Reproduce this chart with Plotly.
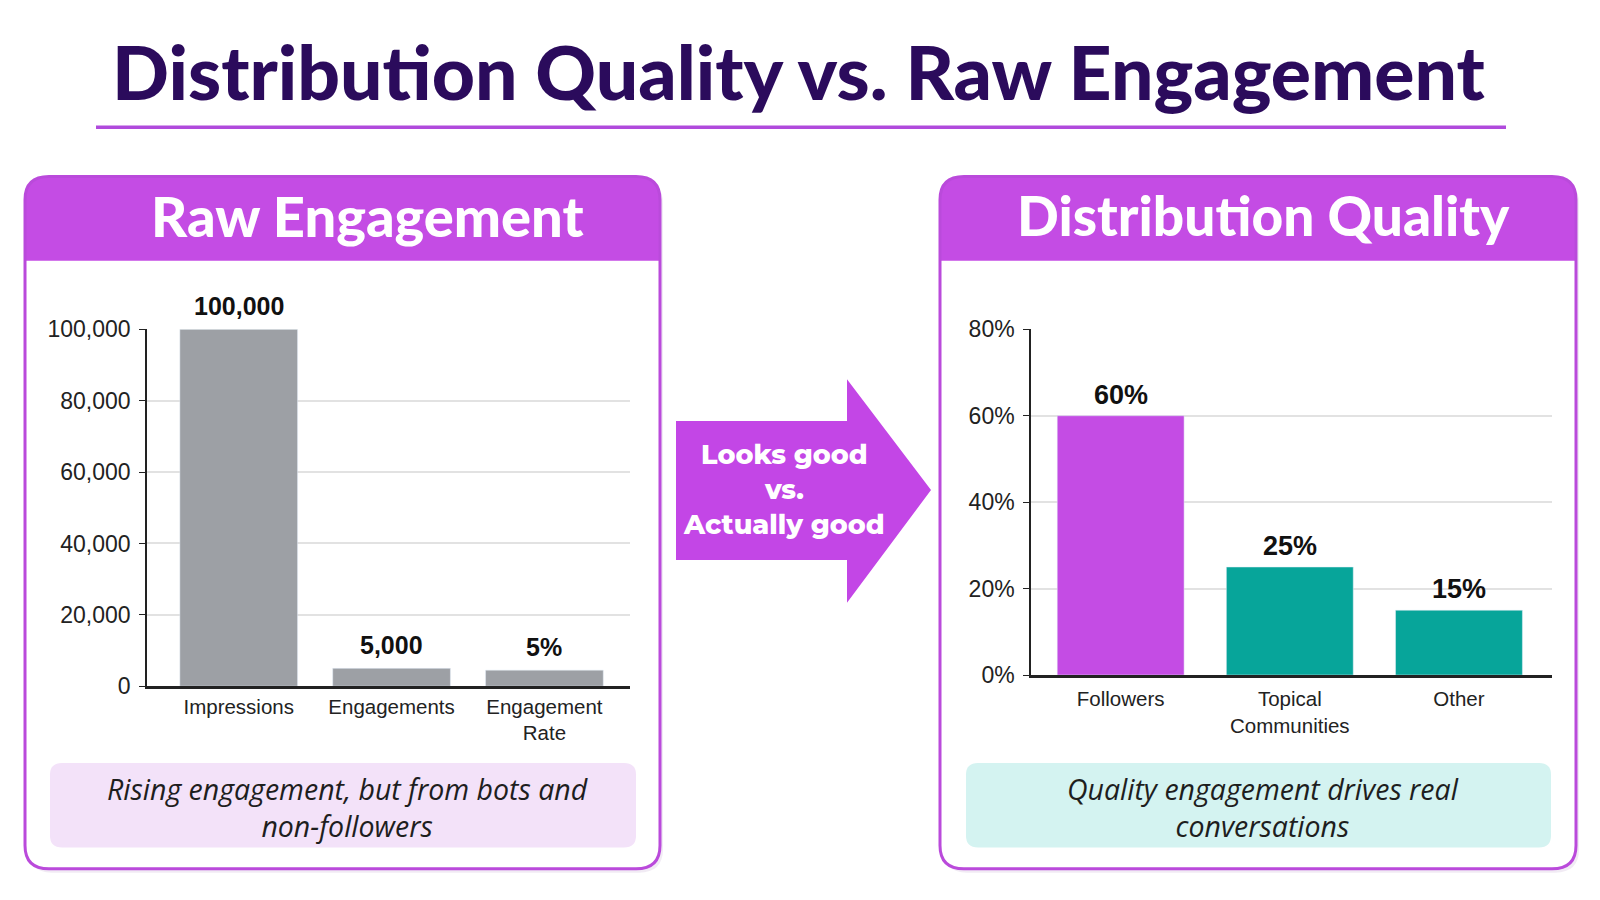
import plotly.graph_objects as go

W, H = 1600, 900

# data
raw_categories = ['Impressions', 'Engagements', 'Engagement<br>Rate']
raw_values = [100000, 5000, 4500]
raw_labels = ['100,000', '5,000', '5%']

quality_categories = ['Followers', 'Topical<br>Communities', 'Other']
quality_values = [60, 25, 15]
quality_labels = ['60%', '25%', '15%']

PURPLE = '#C44CE4'
TEAL = '#07A59A'
GRAY = '#9DA0A5'
BORDER = '#BA4ADB'
TITLE_COLOR = '#2B0B5C'


def px(x):
    return x / W


def py(y):
    return 1 - y / H


def rounded_path(x0, y0, x1, y1, r, bottom_round=True):
    rb = r if bottom_round else 0
    pts = [
        ('M', [(x0 + r, y0)]),
        ('L', [(x1 - r, y0)]),
        ('Q', [(x1, y0), (x1, y0 + r)]),
        ('L', [(x1, y1 - rb)]),
        ('Q', [(x1, y1), (x1 - rb, y1)]),
        ('L', [(x0 + rb, y1)]),
        ('Q', [(x0, y1), (x0, y1 - rb)]),
        ('L', [(x0, y0 + r)]),
        ('Q', [(x0, y0), (x0 + r, y0)]),
    ]
    s = ''
    for cmd, p in pts:
        s += cmd + ' ' + ' '.join(f'{px(a):.5f},{py(b):.5f}' for a, b in p) + ' '
    return s + 'Z'


def poly_path(points):
    s = 'M ' + ' L '.join(f'{px(a):.5f},{py(b):.5f}' for a, b in points)
    return s + ' Z'


fig = go.Figure()

fig.add_trace(go.Bar(x=raw_categories, y=raw_values, marker_color=GRAY,
                     width=0.77, xaxis='x', yaxis='y', showlegend=False,
                     hoverinfo='skip'))
fig.add_trace(go.Bar(x=quality_categories, y=quality_values,
                     marker_color=[PURPLE, TEAL, TEAL],
                     width=0.75, xaxis='x2', yaxis='y2', showlegend=False,
                     hoverinfo='skip'))

shapes = []
# panels
for x0, x1 in [(17, 652), (932, 1568)]:
    shapes.append(dict(type='path', xref='paper', yref='paper', layer='below',
                       path=rounded_path(x0 + 3, 164, x1 + 3, 877, 24),
                       fillcolor='rgba(120,60,150,0.10)', line=dict(width=0)))
    shapes.append(dict(type='path', xref='paper', yref='paper', layer='below',
                       path=rounded_path(x0, 160, x1, 873, 24),
                       fillcolor='white', line=dict(width=0)))
    shapes.append(dict(type='path', xref='paper', yref='paper', layer='below',
                       path=rounded_path(x0, 160, x1, 247, 24, bottom_round=False),
                       fillcolor=PURPLE, line=dict(width=0)))
    shapes.append(dict(type='path', xref='paper', yref='paper', layer='below',
                       path=rounded_path(x0, 160, x1, 873, 24),
                       fillcolor='rgba(0,0,0,0)', line=dict(color=BORDER, width=3)))

# caption boxes
shapes.append(dict(type='path', xref='paper', yref='paper', layer='below',
                   path=rounded_path(42, 764, 628, 851, 12),
                   fillcolor='#F3E2F9', line=dict(width=0)))
shapes.append(dict(type='path', xref='paper', yref='paper', layer='below',
                   path=rounded_path(958, 764, 1543, 851, 12),
                   fillcolor='#D4F3F1', line=dict(width=0)))

# title underline
shapes.append(dict(type='line', xref='paper', yref='paper',
                   x0=px(88), x1=px(1498), y0=py(109.5), y1=py(109.5),
                   line=dict(color='#B04ADC', width=3.5)))

# arrow
shapes.append(dict(type='path', xref='paper', yref='paper', layer='below',
                   path=poly_path([(668, 412), (839, 412), (839, 369), (923, 483),
                                   (839, 599), (839, 555), (668, 555)]),
                   fillcolor='#C346E6', line=dict(width=0)))

header_font = dict(family='Lato, sans-serif', size=56, color='white', weight=900)
arrow_font = dict(family='Montserrat, Lato, sans-serif', size=27, color='white', weight=800)
caption_font = dict(family='Open Sans, sans-serif', size=28.5, color='#1E1E1E', style='italic')

annotations = [
    dict(text='Distribution Quality vs. Raw Engagement', x=px(790), y=py(51),
         font=dict(family='Lato, sans-serif', size=75, color=TITLE_COLOR, weight=900)),
    dict(text='Raw Engagement', x=px(359), y=py(200), font=header_font),
    dict(text='Distribution Quality', x=px(1255), y=py(200),
         font={**header_font, 'size': 55}),
    dict(text='Looks good<br>vs.<br>Actually good', x=px(776), y=py(482), font=arrow_font),
    dict(text='Rising engagement, but from bots and<br>non-followers', x=px(339), y=py(810),
         font=caption_font),
    dict(text='Quality engagement drives real<br>conversations', x=px(1255), y=py(810),
         font=caption_font),
]
for a in annotations:
    a.update(xref='paper', yref='paper', showarrow=False, xanchor='center', yanchor='middle')

# value labels above bars
for c, v, t in zip(raw_categories, raw_values, raw_labels):
    annotations.append(dict(x=c, y=v, text=t, xref='x', yref='y', showarrow=False,
                            yanchor='bottom', yshift=7,
                            font=dict(family='Liberation Sans, Arial', size=25,
                                      color='#111', weight='bold')))
for c, v, t in zip(quality_categories, quality_values, quality_labels):
    annotations.append(dict(x=c, y=v, text=t, xref='x2', yref='y2', showarrow=False,
                            yanchor='bottom', yshift=4,
                            font=dict(family='Liberation Sans, Arial', size=27,
                                      color='#111', weight='bold')))

tick_font = dict(family='Liberation Sans, Arial', size=23, color='#222')
xtick_font = dict(family='Liberation Sans, Arial', size=20.5, color='#222')
y_common = dict(showline=True, linecolor='#222', linewidth=1.5, ticks='outside',
                ticklen=6, tickcolor='#222', tickfont=tick_font, zeroline=False,
                showgrid=True, gridcolor='#E2E2E2', gridwidth=1.5, ticklabelstandoff=4)
x_common = dict(showline=True, linecolor='#222', linewidth=2.5, ticks='',
                tickfont=xtick_font, showgrid=False, zeroline=False)

fig.update_layout(
    width=W, height=H,
    margin=dict(l=0, r=0, t=0, b=0),
    paper_bgcolor='white', plot_bgcolor='rgba(0,0,0,0)',
    shapes=shapes, annotations=annotations,
    xaxis=dict(domain=[px(139), px(622)], anchor='y', range=[-0.6, 2.56], **x_common),
    yaxis=dict(domain=[py(685), py(317.5)], anchor='x', range=[0, 100000],
               dtick=20000, tickformat=',', **y_common),
    xaxis2=dict(domain=[px(1023), px(1544)], anchor='y2', range=[-0.53, 2.55],
                ticklabelstandoff=4, **x_common),
    yaxis2=dict(domain=[py(673.5), py(317.5)], anchor='x2', range=[0, 80],
                dtick=20, ticksuffix='%', **y_common),
)

fig.write_html('out.html')
